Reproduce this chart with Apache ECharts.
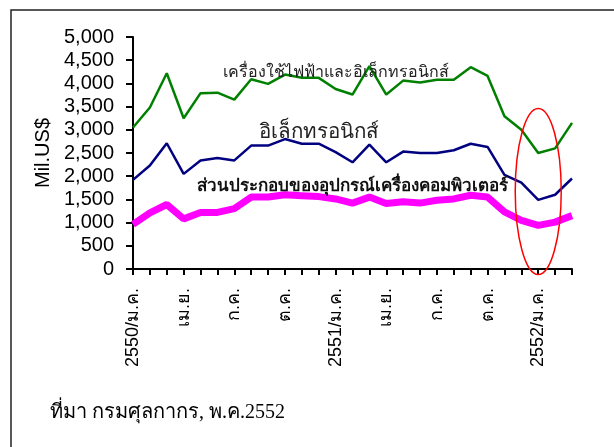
<!DOCTYPE html>
<html>
<head>
<meta charset="utf-8">
<script src="https://cdn.jsdelivr.net/npm/echarts@6/dist/echarts.min.js"></script>
<style>
html,body{margin:0;padding:0;background:#fff;}
#c{width:614px;height:447px;}
</style>
</head>
<body>
<div id="c"></div>
<script>
var months = ["ม.ค.","ก.พ.","มี.ค.","เม.ย.","พ.ค.","มิ.ย.","ก.ค.","ส.ค.","ก.ย.","ต.ค.","พ.ย.","ธ.ค."];
var categories = [];
["2550","2551","2552"].forEach(function(y){
  months.forEach(function(m,i){ categories.push(i===0 ? y + "/" + m : m); });
});
categories = categories.slice(0, 27);

var electricalElectronics = [3050,3480,4220,3250,3790,3800,3650,4090,3990,4190,4120,4120,3880,3760,4370,3760,4060,4020,4080,4080,4350,4160,3290,3000,2500,2600,3150];
var electronics = [1920,2230,2710,2050,2340,2390,2340,2660,2660,2800,2700,2700,2520,2300,2680,2300,2530,2500,2500,2560,2700,2630,2030,1860,1490,1600,1950];
var computerParts = [960,1210,1390,1080,1220,1220,1300,1550,1550,1600,1580,1560,1510,1420,1550,1410,1450,1420,1480,1510,1590,1550,1230,1050,940,1010,1150];

var yTicks = {min:0, max:5000, interval:500};
var seriesLabels = ["เครื่องใช้ไฟฟ้าและอิเล็กทรอนิกส์","อิเล็กทรอนิกส์","ส่วนประกอบของอุปกรณ์เครื่องคอมพิวเตอร์"];
var sourceText = "ที่มา กรมศุลกากร, พ.ค.2552";
var yName = "Mil.US$";

var chart = echarts.init(document.getElementById('c'), null, {renderer:'canvas'});
var thaiSerif = "'Liberation Serif','DejaVu Serif',serif";
var sans = "'Liberation Sans',Arial,sans-serif";

chart.setOption({
  animation:false,
  backgroundColor:'#fff',
  grid:{left:133, right:42, top:37, bottom:178, containLabel:false},
  xAxis:{
    type:'category', data:categories, boundaryGap:false,
    axisLine:{lineStyle:{color:'#000', width:2}},
    axisTick:{show:true, length:6, interval:0, lineStyle:{color:'#000', width:2}},
    axisLabel:{interval:2, rotate:90, margin:19, color:'#000', fontSize:18, fontFamily:sans},
    splitLine:{show:false}
  },
  yAxis:{
    type:'value', min:yTicks.min, max:yTicks.max, interval:yTicks.interval,
    name:yName, nameLocation:'middle', nameGap:74, nameRotate:90,
    nameTextStyle:{color:'#000', fontSize:20, fontFamily:sans},
    axisLine:{show:true, lineStyle:{color:'#000', width:2}},
    axisTick:{show:true, length:7, lineStyle:{color:'#000', width:2}},
    axisLabel:{margin:19, color:'#000', fontSize:20, fontFamily:sans,
      formatter:function(v){return v.toLocaleString('en-US');}},
    splitLine:{show:false}
  },
  series:[
    {type:'line', name:seriesLabels[0], data:electricalElectronics, symbol:'none', lineStyle:{color:'#008000', width:2.5}, z:3},
    {type:'line', name:seriesLabels[1], data:electronics, symbol:'none', lineStyle:{color:'#000080', width:2.5}, z:3},
    {type:'line', name:seriesLabels[2], data:computerParts, symbol:'none', lineStyle:{color:'#FF00FF', width:7}, z:2}
  ]
});

function px(ci, v){ return chart.convertToPixel({gridIndex:0}, [ci, v]); }
var pG = px(11.6, 4235), pB = px(11.4, 2935), pM = px(12.5, 1770), pE = px(24, 1670);
chart.setOption({
  graphic:[
    {type:'rect', shape:{x:11, y:10, width:640, height:480}, style:{fill:'none', stroke:'#222', lineWidth:1.5}, silent:true},
    {type:'text', x:pG[0], y:pG[1], style:{text:seriesLabels[0], fill:'#222', font:'16px ' + thaiSerif, align:'center', verticalAlign:'middle'}, z:10},
    {type:'text', x:pB[0], y:pB[1], style:{text:seriesLabels[1], fill:'#222', font:'20.5px ' + thaiSerif, align:'center', verticalAlign:'middle'}, z:10},
    {type:'text', x:pM[0], y:pM[1], style:{text:seriesLabels[2], fill:'#111', font:'bold 17px ' + thaiSerif, align:'center', verticalAlign:'middle'}, z:10},
    {type:'ellipse', shape:{cx:pE[0], cy:pE[1], rx:23, ry:83}, style:{fill:'none', stroke:'#FF0000', lineWidth:1.5}, z:10},
    {type:'text', left:50, top:403, style:{text:sourceText, fill:'#000', font:'20px ' + thaiSerif}, z:10}
  ]
});
</script>
</body>
</html>
